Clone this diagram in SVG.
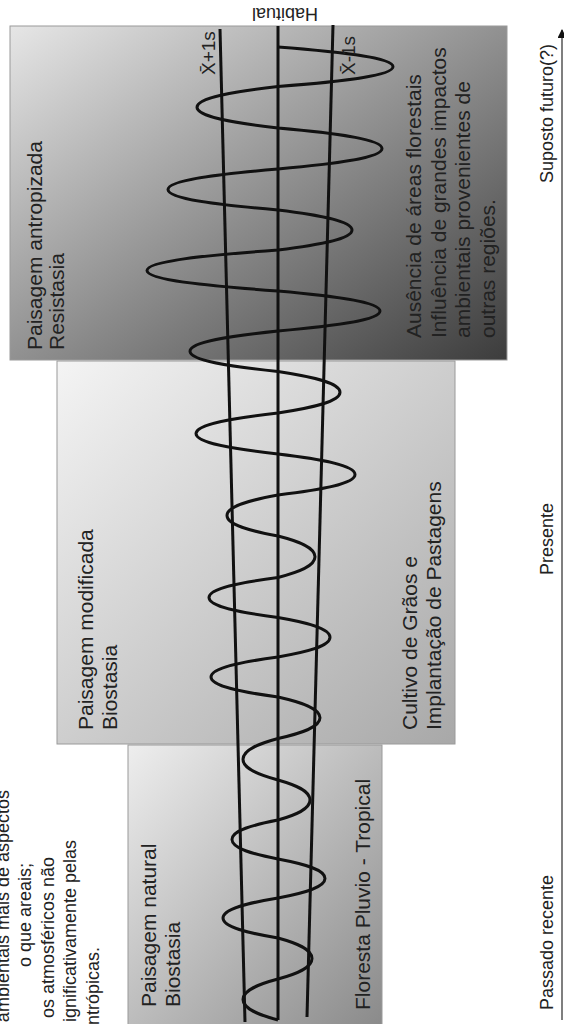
<svg xmlns="http://www.w3.org/2000/svg" width="564" height="1024" viewBox="0 0 564 1024">
<style>
.t{font-family:"Liberation Sans",Arial,sans-serif;font-size:21px;fill:#222}
.n{font-family:"Liberation Sans",Arial,sans-serif;font-size:18px;fill:#222}
.ax{font-family:"Liberation Sans",Arial,sans-serif;font-size:18px;fill:#222}
.box{stroke:#9a9a9a;stroke-width:1}
.ln{stroke:#111;stroke-width:3;fill:none}
</style>
<defs>
<linearGradient id="gA" x1="0" y1="0" x2="1" y2="1"><stop offset="0" stop-color="#e6e6e6"/><stop offset="1" stop-color="#3c3c3c"/></linearGradient>
<linearGradient id="gM" x1="0" y1="0" x2="1" y2="1"><stop offset="0" stop-color="#f4f4f4"/><stop offset="1" stop-color="#a8a8a8"/></linearGradient>
<linearGradient id="gN" x1="0" y1="0" x2="1" y2="1"><stop offset="0" stop-color="#eeeeee"/><stop offset="1" stop-color="#8a8a8a"/></linearGradient>
<marker id="arr" viewBox="0 0 10 10" refX="9" refY="5" markerWidth="6" markerHeight="6" orient="auto" markerUnits="strokeWidth"><path d="M0,0 L10,5 L0,10 z" fill="#111"/></marker>
</defs>

<g id="left-notes">
<text class="n" text-anchor="end" transform="translate(8.5,790) rotate(-90)">ambientais mais de aspectos</text>
<text class="n" text-anchor="end" transform="translate(31,863) rotate(-90)">o que areais;</text>
<text class="n" text-anchor="end" transform="translate(53.5,857) rotate(-90)">os atmosféricos não</text>
<text class="n" text-anchor="end" transform="translate(76,840) rotate(-90)">ignificativamente pelas</text>
<text class="n" text-anchor="end" transform="translate(98.5,947) rotate(-90)">antrópicas.</text>
</g>

<g id="anthropized">
<rect class="box" x="10" y="26" width="497" height="334" fill="url(#gA)"/>
<text class="t" transform="translate(41.5,350) rotate(-90)">Paisagem antropizada</text>
<text class="t" transform="translate(64,350) rotate(-90)">Resistasia</text>
<text class="t" transform="translate(421,338) rotate(-90)">Ausência de áreas florestais</text>
<text class="t" transform="translate(445.5,338) rotate(-90)">Influência de grandes impactos</text>
<text class="t" transform="translate(470,338) rotate(-90)">ambientais provenientes de</text>
<text class="t" transform="translate(494.5,338) rotate(-90)">outras regiões.</text>
</g>

<g id="modified">
<rect class="box" x="57" y="361" width="398" height="383" fill="url(#gM)"/>
<text class="t" transform="translate(93,730) rotate(-90)">Paisagem modificada</text>
<text class="t" transform="translate(117,730) rotate(-90)">Biostasia</text>
<text class="t" transform="translate(417,730) rotate(-90)">Cultivo de Grãos e</text>
<text class="t" transform="translate(441,730) rotate(-90)">Implantação de Pastagens</text>
</g>

<g id="natural">
<rect class="box" x="128" y="745" width="254" height="282" fill="url(#gN)"/>
<text class="t" transform="translate(156,1007) rotate(-90)">Paisagem natural</text>
<text class="t" transform="translate(180,1007) rotate(-90)">Biostasia</text>
<text class="t" transform="translate(370,1010) rotate(-90)">Floresta Pluvio - Tropical</text>
</g>

<g id="connectors">
<line class="ln" x1="220" y1="29" x2="245" y2="1022"/>
<line class="ln" x1="278" y1="26" x2="278" y2="1020"/>
<line class="ln" x1="333" y1="25" x2="307" y2="1017"/>
<path class="ln" d="M278,47 C341.3,51.9 393,57.7 393,66.8 C393,75.8 341.3,81.6 278,86.5 C233.5,91.7 197,97.7 197,107.3 C197,116.8 233.5,122.8 278,128 C335.2,133.1 382,139.1 382,148.5 C382,157.9 335.2,163.9 278,169 C217.5,174.1 168,180.1 168,189.5 C168,198.9 217.5,204.9 278,210 C318.7,215 352,220.8 352,230 C352,239.2 318.7,245 278,250 C206,255.1 147,261.1 147,270.5 C147,279.9 206,285.9 278,291 C334.1,296 380,301.8 380,311 C380,320.2 334.1,326 278,331 C229.6,336.1 190,341.9 190,351.3 C190,360.6 229.6,366.4 278,371.5 C312.1,376.7 340,382.7 340,392.3 C340,401.8 312.1,407.8 278,413 C232.9,418.1 196,424.1 196,433.5 C196,442.9 232.9,448.9 278,454 C320.4,459.1 355,465.1 355,474.5 C355,483.9 320.4,489.9 278,495 C250,500.1 227,506.1 227,515.5 C227,524.9 250,530.9 278,536 C298.4,541.2 315,547.2 315,556.8 C315,566.3 298.4,572.3 278,577.5 C240,582.5 209,588.3 209,597.5 C209,606.7 240,612.5 278,617.5 C306.6,622.4 330,628.2 330,637.3 C330,646.3 306.6,652.1 278,657 C241.2,662 211,667.8 211,677 C211,686.2 241.2,692 278,697 C301.1,702.2 320,708.2 320,717.8 C320,727.3 301.1,733.3 278,738.5 C258.8,743.7 243,749.7 243,759.3 C243,768.8 258.8,774.8 278,780 C295.6,785 310,790.8 310,800 C310,809.2 295.6,815 278,820 C252.7,824.9 232,830.5 232,839.5 C232,848.5 252.7,854.1 278,859 C303.9,863.9 325,869.5 325,878.5 C325,887.5 303.9,893.1 278,898 C247.8,903 223,908.8 223,918 C223,927.2 247.8,933 278,938 C296.7,943.1 312,949.1 312,958.5 C312,967.9 296.7,973.9 278,979 C258.8,984.1 243,990.1 243,999.5 C243,1008.9 258.8,1014.9 278,1020"/>
<text class="t" style="font-size:19px" transform="translate(215,75) rotate(-90)">X̄+1s</text>
<text class="t" style="font-size:19px" transform="translate(355,75) rotate(-90)">X̄-1s</text>
<text class="ax" text-anchor="middle" transform="translate(285,7.5) rotate(180)">Habitual</text>
</g>

<g id="axis">
<line x1="562" y1="1020" x2="562" y2="30" stroke="#555" stroke-width="1.5" marker-end="url(#arr)"/>
<text class="ax" transform="translate(553,1010) rotate(-90)">Passado recente</text>
<text class="ax" transform="translate(553,575) rotate(-90)">Presente</text>
<text class="ax" transform="translate(553,183) rotate(-90)">Suposto futuro(?)</text>
</g>
</svg>
